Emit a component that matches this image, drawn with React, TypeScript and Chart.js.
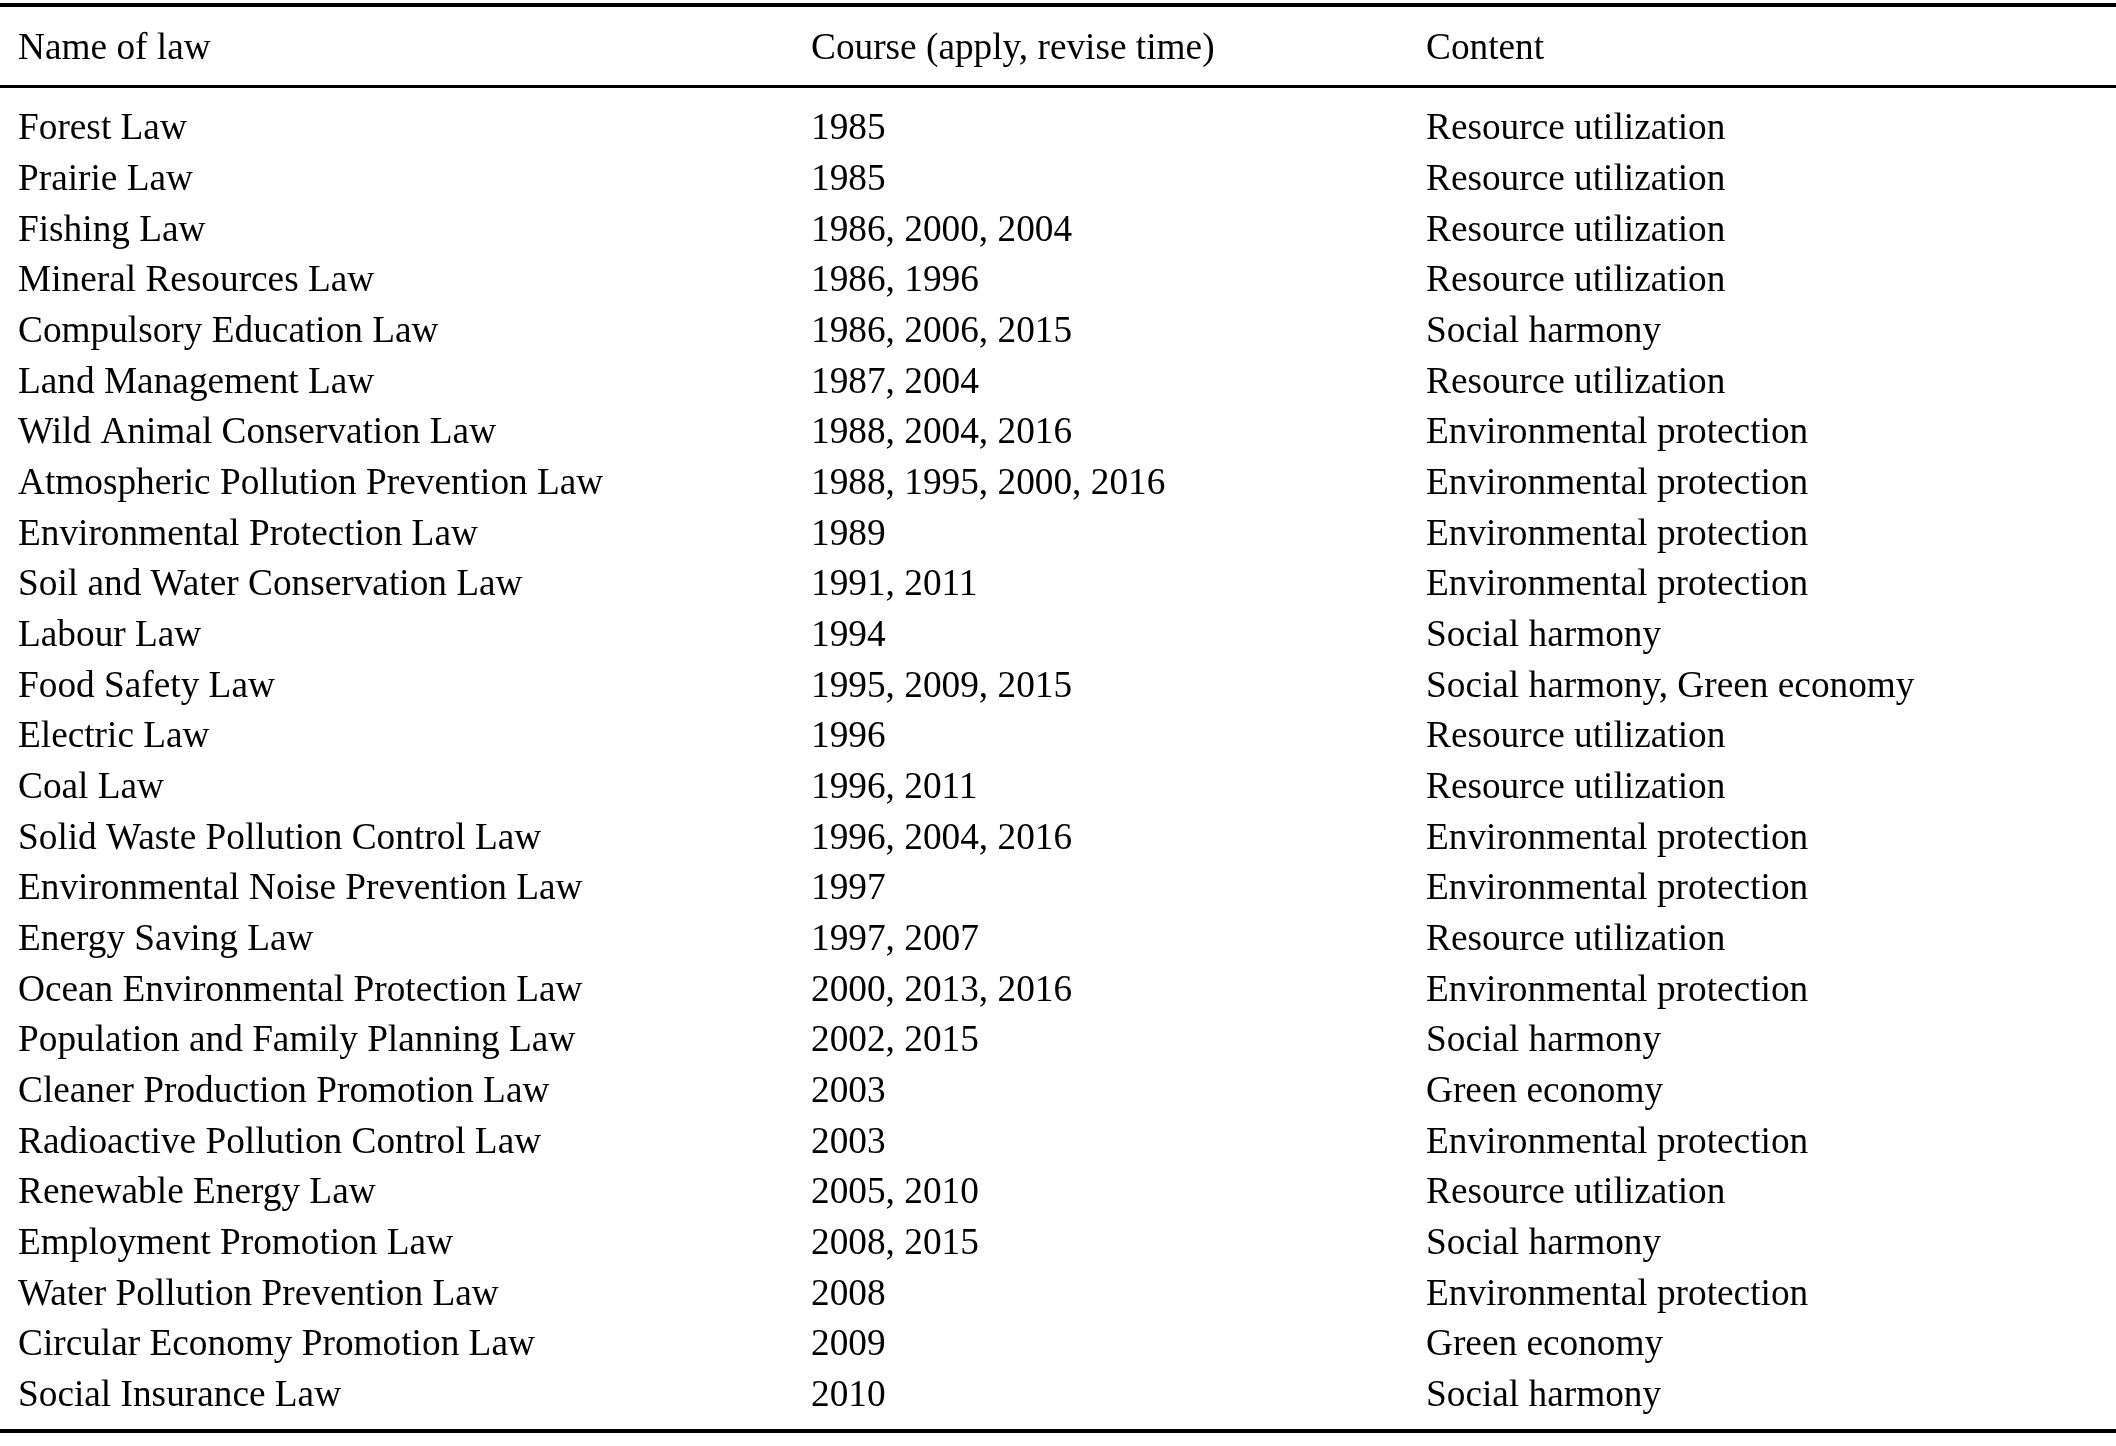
import React, { useEffect, useRef } from "react";
import { Chart, registerables } from "chart.js";

Chart.register(...registerables);

const headers = ["Name of law", "Course (apply, revise time)", "Content"];

const lawNames = [
  "Forest Law",
  "Prairie Law",
  "Fishing Law",
  "Mineral Resources Law",
  "Compulsory Education Law",
  "Land Management Law",
  "Wild Animal Conservation Law",
  "Atmospheric Pollution Prevention Law",
  "Environmental Protection Law",
  "Soil and Water Conservation Law",
  "Labour Law",
  "Food Safety Law",
  "Electric Law",
  "Coal Law",
  "Solid Waste Pollution Control Law",
  "Environmental Noise Prevention Law",
  "Energy Saving Law",
  "Ocean Environmental Protection Law",
  "Population and Family Planning Law",
  "Cleaner Production Promotion Law",
  "Radioactive Pollution Control Law",
  "Renewable Energy Law",
  "Employment Promotion Law",
  "Water Pollution Prevention Law",
  "Circular Economy Promotion Law",
  "Social Insurance Law",
];

const courseYears = [
  "1985",
  "1985",
  "1986, 2000, 2004",
  "1986, 1996",
  "1986, 2006, 2015",
  "1987, 2004",
  "1988, 2004, 2016",
  "1988, 1995, 2000, 2016",
  "1989",
  "1991, 2011",
  "1994",
  "1995, 2009, 2015",
  "1996",
  "1996, 2011",
  "1996, 2004, 2016",
  "1997",
  "1997, 2007",
  "2000, 2013, 2016",
  "2002, 2015",
  "2003",
  "2003",
  "2005, 2010",
  "2008, 2015",
  "2008",
  "2009",
  "2010",
];

const contentTypes = [
  "Resource utilization",
  "Resource utilization",
  "Resource utilization",
  "Resource utilization",
  "Social harmony",
  "Resource utilization",
  "Environmental protection",
  "Environmental protection",
  "Environmental protection",
  "Environmental protection",
  "Social harmony",
  "Social harmony, Green economy",
  "Resource utilization",
  "Resource utilization",
  "Environmental protection",
  "Environmental protection",
  "Resource utilization",
  "Environmental protection",
  "Social harmony",
  "Green economy",
  "Environmental protection",
  "Resource utilization",
  "Social harmony",
  "Environmental protection",
  "Green economy",
  "Social harmony",
];

const W = 2116;
const H = 1446;
const FONT = '37.3px "Liberation Serif", "Times New Roman", serif';
const COL_X = [18, 811, 1426];

const tablePlugin = {
  id: "lawTable",
  afterDraw(chart: any) {
    const ctx: CanvasRenderingContext2D = chart.ctx;
    const yScale = chart.scales.y;
    const w = chart.width;
    ctx.save();
    ctx.fillStyle = "#000";
    // rules
    ctx.fillRect(0, 3, w, 4);
    ctx.fillRect(0, 85, w, 3);
    ctx.fillRect(0, 1429, w, 4);
    ctx.font = FONT;
    ctx.textAlign = "left";
    ctx.textBaseline = "alphabetic";
    headers.forEach((h, i) => ctx.fillText(h, COL_X[i], 59));
    const columns = [lawNames, courseYears, contentTypes];
    lawNames.forEach((_, r) => {
      const py = yScale.getPixelForValue(r) + 14;
      columns.forEach((col, c) => ctx.fillText(col[r], COL_X[c], py));
    });
    ctx.restore();
  },
};

export default function App() {
  const canvasRef = useRef<HTMLCanvasElement | null>(null);

  useEffect(() => {
    const canvas = canvasRef.current;
    if (!canvas) return;
    const chart = new Chart(canvas, {
      type: "scatter",
      data: {
        labels: lawNames,
        datasets: [{ data: [], showLine: false, pointRadius: 0 }],
      },
      options: {
        animation: false,
        responsive: false,
        devicePixelRatio: 1,
        events: [],
        layout: { padding: { top: 100, bottom: 28.6, left: 0, right: 0 } },
        plugins: {
          legend: { display: false },
          title: { display: false },
          tooltip: { enabled: false },
        },
        scales: {
          x: { type: "linear", display: false, min: 0, max: 1 },
          y: { type: "category", labels: lawNames, offset: true, display: false },
        },
      },
      plugins: [tablePlugin],
    });
    return () => chart.destroy();
  }, []);

  return (
    <div style={{ position: "fixed", left: 0, top: 0, width: W, height: H, background: "#fff" }}>
      <canvas ref={canvasRef} width={W} height={H} style={{ display: "block", width: W, height: H }} />
    </div>
  );
}
